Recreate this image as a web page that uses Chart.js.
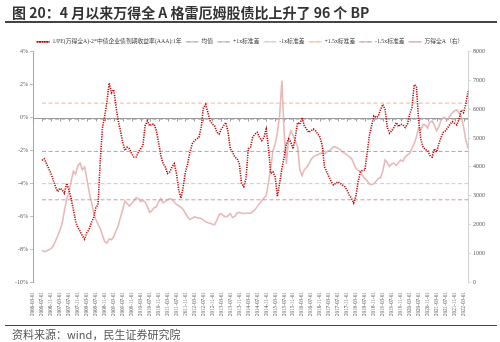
<!DOCTYPE html>
<html>
<head>
<meta charset="utf-8">
<script src="https://cdn.jsdelivr.net/npm/chart.js@4.4.0/dist/chart.umd.min.js"></script>
<style>
  html, body { margin: 0; padding: 0; background: #fff; }
  #wrap { position: relative; width: 500px; height: 342px; overflow: hidden; font-family: "Noto Sans CJK SC", sans-serif; }
  #chart { position: absolute; left: 0; top: 0; }
  .title { position: absolute; left: 12px; top: 2px; font-size: 14px; font-weight: bold; color: #333; white-space: nowrap; }
  .rule { position: absolute; left: 5px; width: 492px; background: #444; }
  .source { position: absolute; left: 12px; top: 328px; font-size: 11px; line-height: 13px; color: #555; white-space: nowrap; }
</style>
</head>
<body>
<div id="wrap">
  <canvas id="chart" width="500" height="342"></canvas>
  <div class="title">图 20：4 月以来万得全 A 格雷厄姆股债比上升了 96 个 BP</div>
  <div class="rule" style="top:21px;height:2px"></div>
  <div class="rule" style="top:325px;height:1px"></div>
  <div class="source">资料来源：wind，民生证券研究院</div>
</div>
<script>
// months on the category axis: 2006-03 .. 2022-05, one label every 4 months
var startYear = 2006, startMonth = 3, monthCount = 195;
var months = [];
for (var i = 0; i < monthCount; i++) {
  var yy = startYear + Math.floor((startMonth - 1 + i) / 12);
  var mm = (startMonth - 1 + i) % 12 + 1;
  months.push(yy + '-' + (mm < 10 ? '0' + mm : mm) + '-01');
}
var labelEvery = 4;
var firstDataIndex = 4; // series start 2006-07

// 1/PE(万得全A) - 2*企业债收益率, %
var ratioValues = [null, null, null, null,
  -2.6, -2.5, -2.8, -3.1, -3.4, -3.8, -4.2, -4.5, -4.3, -4.4,
  -4.6, -4.0, -4.4, -4.9, -5.6, -6.3, -6.7, -6.9, -7.2, -7.4,
  -7.0, -6.8, -6.4, -6.1, -5.5, -5.3, -2.6, -0.6, 0.1, 1.0,
  2.1, 1.5, 1.7, 0.7, -0.2, -0.8, -1.5, -2.0, -1.8, -1.9,
  -2.2, -2.4, -2.4, -2.1, -1.9, -1.7, -0.5, -0.2, -0.5, -0.4,
  -0.4, -0.8, -1.5, -2.3, -2.8, -3.0, -3.4, -3.3, -3.0, -2.8,
  -3.4, -4.4, -4.9, -4.2, -3.3, -2.8, -2.1, -1.6, -1.4, -1.3,
  -1.2, -0.6, 0.6, 0.8, 0.3, -0.2, -0.4, -0.5, -0.9, -1.0,
  -0.7, -0.5, -0.3, -0.9, -1.9, -2.1, -2.4, -2.5, -2.8, -4.0,
  -4.2, -3.7, -1.9, -1.8, -1.2, -1.0, -0.9, -1.2, -1.4, -1.2,
  -0.7, -1.8, -3.4, -3.3, -3.6, -4.8, -4.0, -3.1, -2.4, -1.6,
  -1.3, -1.5, -1.9, -1.2, -0.3, -0.4, 0.0, -0.5, -0.7, -0.9,
  -0.8, -0.7, -0.8, -1.0, -1.2, -1.7, -3.0, -3.3, -3.6, -3.9,
  -4.1, -4.0, -3.9, -4.0, -4.1, -4.2, -4.4, -4.7, -4.9, -5.2,
  -4.8, -3.9, -3.3, -3.2, -3.2, -2.2, -1.1, -0.5, 0.1, 0.0,
  0.1, 0.5, 0.8, 0.5, -0.6, -0.95, -0.8, -0.6, -0.3, -0.55,
  -0.4, -0.45, -0.6, -0.4, 0.2, 0.6, 2.0, 1.9, -0.2, -1.35,
  -1.8, -1.95, -2.0, -2.3, -2.4, -1.9, -2.1, -1.6, -1.2, -0.9,
  -0.8, -0.6, -0.4, -0.25, -0.35, -0.45, -0.1, 0.45, 0.3, 0.8, 1.6];

// 万得全A index (right axis)
var windAValues = [null, null, null, null,
  1110, 1050, 1080, 1120, 1150, 1250, 1420, 1600, 1800, 2030,
  2480, 2880, 3100, 3500, 3850, 3750, 4040, 4130, 3900, 4000,
  3600, 3150, 2800, 2450, 2170, 2000, 1860, 1620, 1400, 1350,
  1500, 1470, 1580, 1780, 1950, 2250, 2500, 2820, 2730, 2640,
  2720, 2820, 2930, 2900, 2800, 2830, 2780, 2620, 2420, 2480,
  2580, 2610, 2780, 2900, 2750, 2800, 2860, 2900, 2870, 2780,
  2700, 2650, 2590, 2520, 2380, 2260, 2170, 2220, 2260, 2240,
  2220, 2210, 2150, 2090, 2060, 2040, 2010, 1990, 2150, 2330,
  2370, 2300, 2260, 2300, 2380, 2240, 2280, 2400, 2420, 2400,
  2380, 2390, 2390, 2390, 2450, 2510, 2620, 2720, 2820, 2920,
  3000, 3450, 3950, 4550, 4800, 5200, 5800, 7000, 5200, 4100,
  5000, 5250, 5100, 4900, 4700, 3900, 3700, 3900, 3980, 4100,
  4250, 4350, 4400, 4420, 4470, 4480, 4450, 4530, 4560, 4620,
  4700, 4680, 4650, 4600, 4520, 4470, 4420, 4360, 4300, 4130,
  3950, 3880, 3850, 3700, 3600, 3520, 3400, 3380, 3420, 3500,
  3600, 3620, 3850, 4240, 4150, 4020, 4100, 4130, 4050, 4150,
  4240, 4200, 4350, 4420, 4470, 4650, 4800, 5050, 5350, 5300,
  5480, 5450, 5350, 5550, 5600, 5450, 5250, 5400, 5620, 5720,
  5700, 5640, 5780, 5880, 5950, 5980, 5880, 5750, 5400, 4950, 4650];

// reference levels (%)
var meanLevel = -2.06;
var plus1Level = -0.10;
var minus1Level = -4.02;
var plus15Level = 0.88;
var minus15Level = -5.00;

var leftTicks = { min: -10, max: 4, step: 2 };
var rightTicks = { min: 0, max: 8000, step: 1000 };

var flatLine = function(level) {
  return months.map(function(_, i) { return i < firstDataIndex ? null : level; });
};

var refLine = function(label, level, color) {
  return {
    label: label,
    data: flatLine(level),
    yAxisID: 'y',
    borderColor: color,
    backgroundColor: 'transparent',
    borderWidth: 1,
    borderDash: [4, 2.5],
    pointRadius: 0
  };
};

var zeroAxis = {
  id: 'zeroAxis',
  beforeDatasetsDraw: function(chart) {
    var ctx = chart.ctx, area = chart.chartArea, sx = chart.scales.x;
    var y0 = Math.round(chart.scales.y.getPixelForValue(0)) + 0.5;
    ctx.save();
    ctx.strokeStyle = '#9a9a9a';
    ctx.lineWidth = 1;
    ctx.beginPath();
    ctx.moveTo(area.left, y0);
    ctx.lineTo(area.right, y0);
    for (var i = 0; i < months.length; i += labelEvery) {
      var x = Math.round(sx.getPixelForTick(i)) + 0.5;
      ctx.moveTo(x, y0);
      ctx.lineTo(x, y0 + 3);
    }
    ctx.stroke();
    ctx.restore();
  }
};

var legendGap = {
  id: 'legendGap',
  beforeInit: function(chart) {
    if (!chart.legend) return;
    var fit = chart.legend.fit;
    chart.legend.fit = function() { fit.call(this); this.height -= 3; };
  }
};

var tickFont = { family: "'Liberation Serif', 'Noto Sans CJK SC', serif", size: 6 };

var ctx = document.getElementById('chart');
var myChart = new Chart(ctx, {
  type: 'line',
  data: {
    labels: months,
    datasets: [
      {
        label: '1/PE(万得全A)-2*中债企业债到期收益率(AAA):1年',
        data: ratioValues,
        yAxisID: 'y',
        borderColor: '#c00000',
        backgroundColor: 'transparent',
        borderWidth: 1.6,
        borderDash: [1.2, 1.2],
        pointRadius: 0,
        tension: 0
      },
      refLine('均值', meanLevel, '#a6a6a6'),
      refLine('+1x标准差', plus1Level, '#a6a6a6'),
      refLine('-1x标准差', minus1Level, '#d3c1c1'),
      refLine('+1.5x标准差', plus15Level, '#f2b48c'),
      refLine('-1.5x标准差', minus15Level, '#c79a96'),
      {
        label: '万得全A（右）',
        data: windAValues,
        yAxisID: 'y1',
        borderColor: '#e8b9b8',
        backgroundColor: 'transparent',
        borderWidth: 1.6,
        pointRadius: 0,
        tension: 0
      }
    ]
  },
  options: {
    responsive: false,
    devicePixelRatio: 1,
    animation: false,
    layout: { padding: { top: 35, left: 0, right: 0, bottom: 0 } },
    plugins: {
      legend: {
        position: 'top',
        labels: {
          boxWidth: 13,
          boxHeight: 0,
          padding: 4,
          color: '#404040',
          font: { family: "'Liberation Serif', 'Noto Sans CJK SC', serif", size: 5.8 }
        }
      },
      tooltip: { enabled: false }
    },
    scales: {
      x: {
        type: 'category',
        grid: { display: false },
        border: { display: false },
        afterFit: function(scale) { scale.height = 60; },
        ticks: {
          autoSkip: false,
          minRotation: 90,
          maxRotation: 90,
          padding: 2,
          color: '#595959',
          font: { family: "'Liberation Serif', serif", size: 5.2 },
          callback: function(value, index) {
            return index % labelEvery === 0 ? months[index] : '';
          }
        }
      },
      y: {
        position: 'left',
        min: leftTicks.min,
        max: leftTicks.max,
        afterFit: function(scale) { scale.width = 33; },
        grid: { drawOnChartArea: false, tickLength: 3, color: '#bfbfbf' },
        border: { color: '#a6a6a6' },
        ticks: {
          stepSize: leftTicks.step,
          padding: 2,
          color: '#595959',
          font: tickFont,
          callback: function(v) { return v + '%'; }
        }
      },
      y1: {
        position: 'right',
        min: rightTicks.min,
        max: rightTicks.max,
        afterFit: function(scale) { scale.width = 32; },
        grid: { drawOnChartArea: false, tickLength: 3, color: '#d9d9d9' },
        border: { color: '#d0d0d0' },
        ticks: {
          stepSize: rightTicks.step,
          padding: 2,
          color: '#595959',
          font: tickFont,
          callback: function(v) { return String(v); }
        }
      }
    }
  },
  plugins: [zeroAxis, legendGap]
});
</script>
</body>
</html>
